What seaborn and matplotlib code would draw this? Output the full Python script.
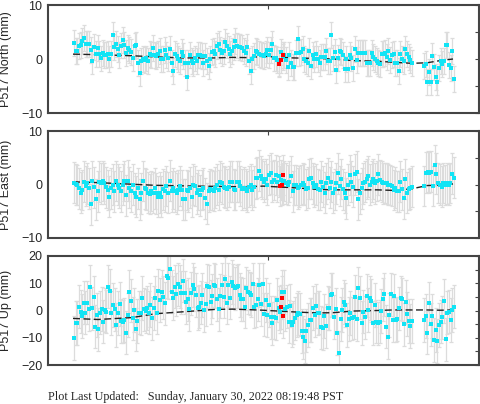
import numpy as np
import pandas as pd
import matplotlib
matplotlib.use("Agg")
import matplotlib.pyplot as plt
import seaborn as sns
from matplotlib.ticker import MultipleLocator, NullFormatter

# ---------------- data (mm) ----------------
seg1_span = (2020.03, 2021.72)   # decimal years, first data block
seg2_span = (2021.78, 2021.93)   # decimal years, block after the gap

north_a = [3.0,1.5,1.5,2.4,2.6,3.4,3.9,2.7,2.7,2.7,1.7,-0.4,2.3,1.0,2.0,1.0,0.1,1.1,0.8,0.8,0.9,0.0,1.0,4.4,2.3,2.8,1.9,0.8,2.5,3.6,2.6,1.1,2.1,1.6,1.3,0.2,2.4,2.6,-0.8,-2.6,-0.3,0.0,-0.2,0.1,-0.3,1.0,0.8,2.1,0.8,0.5,0.9,1.4,0.0,0.0,1.7,0.8,0.1,1.9,-0.8,-2.3,1.0,0.5,0.0,-0.4,1.3,0.6,-0.8,-3.3,-0.8,0.8,-0.4,-0.7,0.1,-0.4,0.8,0.8,0.6,-0.8,0.5,-0.4,-1.3,0.0,1.3,1.5,1.0,2.4,2.7,1.6,1.1,1.4,3.1,2.5,1.8,1.0,1.4,2.3,3.3,2.5,2.3,2.3,2.0,1.4,1.1,2.3,-0.4,-2.3,0.0,0.5,1.4,1.3,1.0,0.8,0.8,
           0.6,1.0,1.7,0.8,1.7,2.7,0.2,0.1,-0.2,-0.8,1.3,0.3,0.8,-0.2,-1.4,0.8,-0.7,-1.4,-1.4,1.1,3.7,1.1,1.3,1.9,0.0,-0.3,-0.8,1.4,-1.3,0.8,0.0,1.0,0.0,-0.7,0.3,0.3,0.4,1.5,-0.3,-0.4,4.4,0.2,1.3,-2.0,0.2,1.4,1.3,0.8,-1.9,0.0,-1.9,0.8,0.1,-1.7,1.9,-0.2,1.1,1.1,1.1,1.1,1.1,-0.8,-0.8,-0.8,1.1,0.4,0.0,-0.3,-0.7,-1.0,1.0,1.0,1.1,0.3,1.4,-0.2,0.8,1.0,-0.7,-0.8,-2.3,1.0,0.0,-0.3,1.9,1.0,0.4,-0.2,-0.7]
north_b = [-1.3,-1.0,-4.2,-2.4,-4.3,0.6,-1.4,-3.3,-4.2,-1.6,-0.3,-1.0,-0.4,2.6,2.6,-1.1,-1.6,1.5,-3.7]
north_red_t = [2021.055, 2021.067, 2021.075]
north_red = [-1.0, -0.2, 0.8]

east_a = [0.34,0.03,-0.1,-0.7,-1.5,-1.0,0.5,-0.3,0.2,-0.7,-3.7,0.65,-0.5,-2.8,-1.3,0.5,0.2,0.65,0.2,-0.5,-1.0,-2.3,-0.7,0.0,-1.3,0.65,0.0,-0.6,-1.3,0.0,0.65,-2.0,0.7,-0.6,-1.3,0.0,-1.65,-2.3,-0.7,-2.8,-1.65,0.65,-0.7,-0.9,-1.5,-1.8,-1.2,-1.5,-0.7,-1.65,-2.3,-1.5,-2.3,-0.9,-1.3,-0.3,-1.5,0.7,-1.3,-0.7,-1.3,-1.65,-1.0,-0.3,-1.0,-2.8,-2.8,-1.0,-1.3,-0.6,-2.3,0.0,-0.3,-1.65,-1.0,-2.0,-1.0,-0.7,-2.6,-3.6,-1.3,-0.9,-1.0,-1.2,-0.6,0.0,-1.0,0.5,0.2,-0.4,-0.6,-0.9,-0.4,0.5,0.5,-0.9,-1.0,0.5,0.5,-0.3,-0.9,-0.6,-0.9,-1.3,-0.4,0.0,-1.0,-0.4,1.15,1.3,2.6,1.5,1.0,0.5,1.0,
          0.0,1.8,2.1,0.5,0.85,1.8,0.5,1.5,0.85,0.2,0.65,0.2,-0.1,0.5,1.5,-1.3,-0.1,-0.1,-0.7,-0.4,-0.1,0.2,0.0,-0.9,-0.6,1.0,1.15,0.2,-0.4,0.0,-0.9,-1.0,0.5,-0.4,-1.5,0.2,1.15,-0.6,0.5,-1.5,-0.9,0.2,2.1,-0.3,1.0,-0.9,-1.5,-2.6,0.0,1.8,0.5,-0.4,1.9,2.4,-2.8,-1.65,-0.7,0.2,0.5,1.0,1.5,0.0,0.5,1.0,0.2,0.65,1.9,0.85,0.5,0.2,0.3,0.2,0.0,-0.1,-0.3,-1.0,-0.6,-1.3,-1.3,0.5,-0.9,-2.6,1.0,-1.5,-0.9,-0.7,-0.4]
east_b = [-0.3,2.2,2.4,2.2,2.4,-0.3,3.6,2.0,0.3,0.0,-0.4,0.3,-0.1,0.2,0.0,0.3,2.0,1.3]
east_red_t = [2021.06, 2021.0675, 2021.075]
east_red = [-0.3, 0.0, 1.8]

up_a = [-10.0,-4.5,-4.5,1.4,-0.4,-2.0,2.9,-0.8,2.9,0.4,8.8,0.8,4.8,-5.9,-1.7,-6.9,-0.8,0.6,-4.1,0.2,-0.4,8.8,7.3,-1.0,2.0,0.4,-5.3,-1.0,2.3,-3.9,-4.1,-3.5,-8.1,-1.7,6.9,3.6,-2.9,0.2,-6.9,-3.9,-0.8,-1.0,4.5,0.4,-0.2,1.0,-0.8,2.0,-2.9,1.0,4.5,-0.8,7.3,3.9,6.9,4.8,2.6,12.7,12.1,15.1,6.9,4.5,8.8,5.9,9.6,8.8,6.6,11.0,6.6,3.2,4.1,0.4,6.3,9.4,7.9,5.7,1.0,1.4,2.9,5.7,0.2,2.3,9.0,8.8,3.2,5.3,9.4,9.0,4.1,0.4,5.3,9.4,5.1,11.5,2.9,9.4,4.7,10.4,9.0,8.1,8.8,9.0,5.7,4.2,4.1,1.4,8.1,6.7,6.3,5.7,9.6,1.4,2.0,4.1,9.4,2.3,9.6,-1.4,
        3.9,-1.7,2.0,-2.5,-4.7,-2.5,-2.9,3.9,1.0,-0.4,6.7,6.7,0.4,1.4,-4.1,1.8,-5.3,-4.4,-2.9,-1.7,-1.0,-1.4,-7.5,-9.9,-11.2,-7.4,-5.3,-3.5,-3.5,1.0,-1.7,1.7,-1.0,-0.8,-6.2,-6.6,-2.0,-5.7,1.0,0.8,5.7,5.9,-2.3,0.4,-8.4,-15.5,-3.2,0.2,3.2,2.0,-5.3,-3.2,-1.0,-2.9,-2.3,5.1,-3.2,8.1,4.7,-4.5,-0.4,-2.5,5.5,0.2,4.5,3.6,-4.5,2.0,-4.1,-4.7,-4.1,-0.2,4.1,5.9,-5.9,-9.9,-1.7,5.9,-3.5,5.3,-3.5,-3.2,0.8,4.5,4.1,-5.1,3.2,-1.3,-3.9,-5.7,-3.9]
up_b = [-3.5,-2.0,-8.1,2.6,-5.1,-2.0,-10.8,-7.2,-11.2,-5.3,-4.1,-2.5,3.5,-10.6,-0.8,-0.4,-3.5,0.2,1.4]
up_red_t = [2021.063, 2021.07, 2021.077]
up_red = [1.2, 4.7, -2.0]

# model (trend + seasonal) curve, read at knots
trend_t = [2020.025,2020.15,2020.32,2020.435,2020.57,2020.735,2020.82,2020.91,2020.975,2021.125,2021.245,2021.325,2021.425,2021.545,2021.625,2021.72,2021.795,2021.86,2021.925]
north_trend = [0.9,0.8,0.6,0.4,0.2,0.2,0.3,0.25,0.5,0.2,0.1,0.0,-0.3,-0.4,-0.6,-0.8,-0.7,-0.3,0.0]
east_trend = [0.5,0.35,0.05,-0.15,-0.25,-0.35,-0.4,-0.4,-0.3,-0.6,-0.9,-1.0,-1.0,-1.0,-1.1,-0.8,-0.2,-0.1,0.1]
up_trend = [-2.9,-3.3,-2.6,-1.2,-0.5,0.4,0.5,0.3,0.1,-0.5,-0.9,-0.8,-0.2,0.0,0.2,0.2,0.2,0.1,0.2]

sigma = {"North": 2.4, "East": 3.8, "Up": 8.0}
labels = {"North": "P517 North (mm)", "East": "P517 East (mm)", "Up": "P517 Up (mm)"}
ylims = {"North": (-10, 10), "East": (-10, 10), "Up": (-20, 20)}
footer = "Plot Last Updated:   Sunday, January 30, 2022 08:19:48 PST"


def times(a, b):
    return np.concatenate([np.linspace(seg1_span[0], seg1_span[1], len(a)),
                           np.linspace(seg2_span[0], seg2_span[1], len(b))])


panels = [
    ("North", north_a, north_b, north_red_t, north_red, north_trend),
    ("East", east_a, east_b, east_red_t, east_red, east_trend),
    ("Up", up_a, up_b, up_red_t, up_red, up_trend),
]

sns.set_style("white")
plt.rcParams["font.family"] = ["Liberation Sans", "DejaVu Sans"]

fig = plt.figure(figsize=(4.81, 4.04), dpi=100)
W, H = 481, 404
boxes = [(5, 113), (131, 238), (256, 365)]
CYAN = "#12e4f5"
ERR = "#dcdcdc"
SPINE = "#444444"

for (name, a, b, rt, rv, tr), (top, bot) in zip(panels, boxes):
    ax = fig.add_axes([48 / W, 1 - bot / H, 431 / W, (bot - top) / H])
    t = times(a, b)
    v = np.array(a + b)
    df = pd.DataFrame({"t": t, "v": v})
    ax.errorbar(df["t"], df["v"], yerr=sigma[name], fmt="none", ecolor=ERR,
                elinewidth=0.9, capsize=1.3, capthick=0.9, zorder=1)
    ax.errorbar(rt, rv, yerr=sigma[name], fmt="none", ecolor=ERR,
                elinewidth=0.9, capsize=1.3, capthick=0.9, zorder=1)
    sns.lineplot(x=trend_t, y=tr, ax=ax, color="#222222", lw=1.0,
                 linestyle=(0, (5, 2.5)), zorder=3)
    sns.scatterplot(data=df, x="t", y="v", ax=ax, color=CYAN, marker="s",
                    s=5.5, linewidth=0, zorder=4)
    sns.scatterplot(x=rt, y=rv, ax=ax, color="#ff0000", marker="s",
                    s=5.5, linewidth=0, zorder=5)

    ax.set_xlim(2019.9, 2022.055)
    ax.set_ylim(*ylims[name])
    ax.set_xticks([2021.0])
    ax.xaxis.set_major_formatter(NullFormatter())
    ax.yaxis.set_major_locator(MultipleLocator(10))
    ax.yaxis.set_minor_locator(MultipleLocator(5))
    ax.tick_params(axis="both", which="both", direction="in", top=True,
                   right=True, length=3, width=0.8, color=SPINE,
                   labelsize=9, pad=4)
    ax.set_xlabel("")
    ax.set_ylabel(labels[name], fontsize=9)
    ax.yaxis.set_label_coords(-0.083, 0.5)
    for s in ax.spines.values():
        s.set_color(SPINE)
        s.set_linewidth(1.5)

fig.text(48 / W, 1 - 400 / H, footer, family=["Liberation Serif", "DejaVu Serif"],
         fontsize=8.7, va="baseline", ha="left")

fig.savefig("out.png", dpi=100)
